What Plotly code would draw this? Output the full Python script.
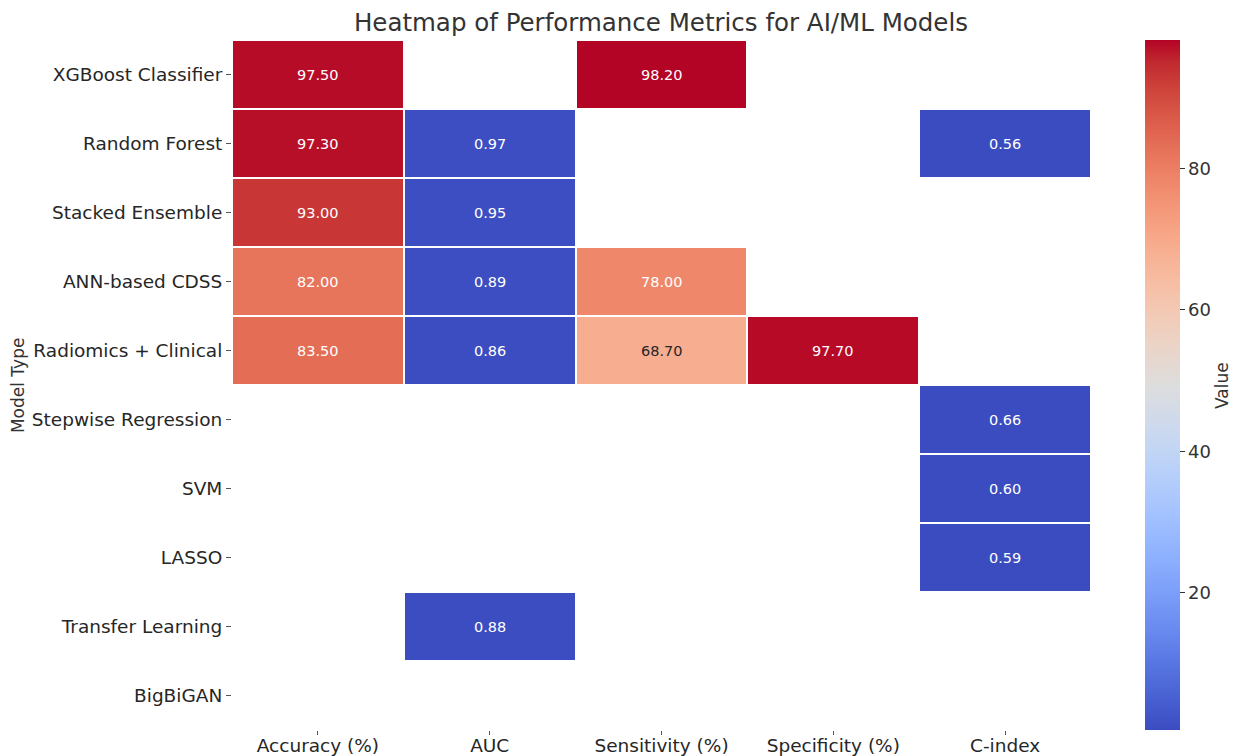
import plotly.graph_objects as go

models = ["XGBoost Classifier", "Random Forest", "Stacked Ensemble", "ANN-based CDSS",
          "Radiomics + Clinical", "Stepwise Regression", "SVM", "LASSO",
          "Transfer Learning", "BigBiGAN"]
metrics = ["Accuracy (%)", "AUC", "Sensitivity (%)", "Specificity (%)", "C-index"]

N = None
accuracy = [97.5, 97.3, 93.0, 82.0, 83.5, N, N, N, N, N]
auc = [N, 0.97, 0.95, 0.89, 0.86, N, N, N, 0.88, N]
sensitivity = [98.2, N, N, 78.0, 68.7, N, N, N, N, N]
specificity = [N, N, N, N, 97.7, N, N, N, N, N]
c_index = [N, 0.56, N, N, N, 0.66, 0.60, 0.59, N, N]

columns = [accuracy, auc, sensitivity, specificity, c_index]
z = [[columns[j][i] for j in range(len(metrics))] for i in range(len(models))]

coolwarm_rgb = [
    (59, 76, 192), (68, 90, 204), (77, 104, 215), (87, 117, 225), (98, 130, 234),
    (108, 142, 241), (119, 154, 247), (130, 165, 251), (141, 176, 254), (152, 185, 255),
    (163, 194, 255), (174, 201, 253), (184, 208, 249), (194, 213, 244), (204, 217, 238),
    (213, 219, 230), (221, 221, 221), (229, 216, 209), (236, 211, 197), (241, 204, 185),
    (245, 196, 173), (247, 187, 160), (247, 177, 148), (247, 166, 135), (244, 154, 123),
    (241, 141, 111), (236, 127, 99), (229, 112, 88), (222, 96, 77), (213, 80, 66),
    (203, 62, 56), (192, 40, 47), (180, 4, 38)]
n = len(coolwarm_rgb) - 1
colorscale = [[i / n, "rgb(%d,%d,%d)" % c] for i, c in enumerate(coolwarm_rgb)]

vals = [v for row in z for v in row if v is not None]
zmin, zmax = min(vals), max(vals)

fig = go.Figure(go.Heatmap(
    z=z, x=metrics, y=models, colorscale=colorscale, zmin=zmin, zmax=zmax,
    xgap=2, ygap=2, hoverongaps=False,
    colorbar=dict(
        tickvals=[20, 40, 60, 80], ticks="outside", ticklen=5, tickcolor="#333",
        tickfont=dict(size=18, color="#333"),
        thickness=35, len=1.0, lenmode="fraction", y=0.5, yanchor="middle",
        ypad=0, xpad=0, x=1.063, xanchor="left", outlinewidth=0,
    ),
))

# luminance-based text color like seaborn
def lum(v):
    t = (v - zmin) / (zmax - zmin)
    k = t * n
    i = min(int(k), n - 1)
    f = k - i
    c = [coolwarm_rgb[i][m] + (coolwarm_rgb[i + 1][m] - coolwarm_rgb[i][m]) * f for m in range(3)]
    def lin(x):
        x = x / 255
        return x / 12.92 if x <= 0.03928 else ((x + 0.055) / 1.055) ** 2.4
    return 0.2126 * lin(c[0]) + 0.7152 * lin(c[1]) + 0.0722 * lin(c[2])

for i, m in enumerate(models):
    for j, mt in enumerate(metrics):
        v = z[i][j]
        if v is None:
            continue
        col = "#262626" if lum(v) > 0.408 else "white"
        fig.add_annotation(x=mt, y=m, text="%.2f" % v, showarrow=False,
                           font=dict(size=14.5, color=col))

fig.add_annotation(text="Model Type", xref="paper", yref="paper", x=-0.249, y=0.5,
                   textangle=-90, showarrow=False, xanchor="center", yanchor="middle",
                   font=dict(size=17, color="#333"))
fig.add_annotation(text="Value", xref="paper", yref="paper", x=1.1525, y=0.5,
                   textangle=-90, showarrow=False, xanchor="center", yanchor="middle",
                   font=dict(size=17, color="#333"))

fig.update_layout(
    width=1229, height=748,
    margin=dict(l=224, r=146, t=32, b=26, autoexpand=False),
    paper_bgcolor="white", plot_bgcolor="white",
    font=dict(family="DejaVu Sans", color="#262626"),
    title=dict(text="Heatmap of Performance Metrics for AI/ML Models",
               font=dict(size=24.5, color="#333"), x=0.5313, xanchor="center",
               y=0.981, yanchor="middle"),
    xaxis=dict(tickfont=dict(size=18.5, color="#262626"), ticks="outside", ticklen=4,
               tickcolor="#555", showgrid=False, zeroline=False, showline=False,
               automargin=False, ticklabelstandoff=-5),
    yaxis=dict(autorange="reversed", tickfont=dict(size=18.5, color="#262626"),
               ticks="outside", ticklen=5, tickcolor="#555", showgrid=False,
               zeroline=False, showline=False, automargin=False),
)

fig.write_html("out.html")
